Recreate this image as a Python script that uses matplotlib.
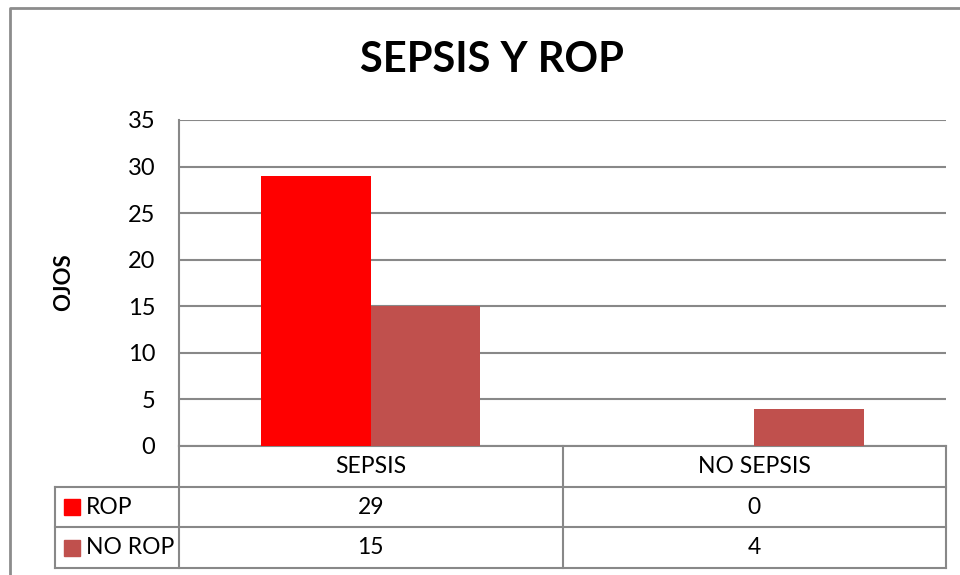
import matplotlib
matplotlib.use("Agg")
import matplotlib.pyplot as plt
import numpy as np

plt.rcParams["font.family"] = ["Lato", "DejaVu Sans"]

title = "SEPSIS Y ROP"
ylabel = "OJOS"
categories = ["SEPSIS", "NO SEPSIS"]
series_names = ["ROP", "NO ROP"]
rop = [29, 0]
no_rop = [15, 4]
colors = ["#FF0000", "#C0504D"]
yticks = [0, 5, 10, 15, 20, 25, 30, 35]

W, H = 960, 575
grid_col = "#888888"

fig = plt.figure(figsize=(W / 100, H / 100), dpi=100, facecolor="white")

# pixel-coordinate overlay for frame and data table
ov = fig.add_axes([0, 0, 1, 1])
ov.set_xlim(0, W)
ov.set_ylim(H, 0)
ov.axis("off")

# plot area (pixel box)
px0, px1, py0, py1 = 179, 946, 120, 446
ax = fig.add_axes([px0 / W, (H - py1) / H, (px1 - px0) / W, (py1 - py0) / H])
ax.set_zorder(2)
ax.patch.set_alpha(0)

x = np.arange(len(categories))
bw = 0.286
for i, (vals, name) in enumerate(zip([rop, no_rop], series_names)):
    ax.bar(x + (i - 0.5) * bw, vals, width=bw, color=colors[i], zorder=3, label=name)

ax.set_xlim(-0.5, len(categories) - 0.5)
ax.set_ylim(0, 35)
ax.set_yticks(yticks)
ax.set_yticklabels([str(t) for t in yticks], fontsize=17)
ax.tick_params(axis="y", length=0, pad=17)
ax.set_xticks([])
ax.yaxis.grid(True, color=grid_col, linewidth=1.5, zorder=0)
ax.set_axisbelow(True)
for s in ("top", "right", "bottom"):
    ax.spines[s].set_visible(False)
ax.spines["left"].set_color(grid_col)
ax.spines["left"].set_linewidth(1.5)

fig.text(64 / W, 1 - 282 / H, ylabel, rotation=90, fontsize=16, fontweight="bold",
         ha="center", va="center")
fig.text(492 / W, 1 - 60 / H, title, fontsize=30, fontweight="bold", ha="center", va="center")

# outer frame
ov.plot([10, 10, W], [H, 8, 8], color="#8c8c8c", linewidth=2, solid_capstyle="butt")

# data table
col_edges = [px0 + (px1 - px0) * k / len(categories) for k in range(len(categories) + 1)]
row_edges = [446, 487, 527, 568]
lc = dict(color=grid_col, linewidth=1.5)
ov.plot([px0, px1], [row_edges[0], row_edges[0]], **lc)
for r in row_edges[1:]:
    ov.plot([55, px1], [r, r], **lc)
for c in col_edges:
    ov.plot([c, c], [row_edges[0], row_edges[-1]], **lc)
ov.plot([55, 55], [row_edges[1], row_edges[-1]], **lc)

for j, cat in enumerate(categories):
    cx = (col_edges[j] + col_edges[j + 1]) / 2
    ov.text(cx, (row_edges[0] + row_edges[1]) / 2, cat, fontsize=16.5, ha="center", va="center")
    for i, vals in enumerate([rop, no_rop]):
        ov.text(cx, (row_edges[i + 1] + row_edges[i + 2]) / 2, str(vals[j]),
                fontsize=16.5, ha="center", va="center")

for i, name in enumerate(series_names):
    yc = (row_edges[i + 1] + row_edges[i + 2]) / 2
    ov.add_patch(plt.Rectangle((64, yc - 8), 16, 16, color=colors[i]))
    ov.text(86, yc, name, fontsize=16.5, ha="left", va="center")

fig.savefig("out.png", dpi=100)
